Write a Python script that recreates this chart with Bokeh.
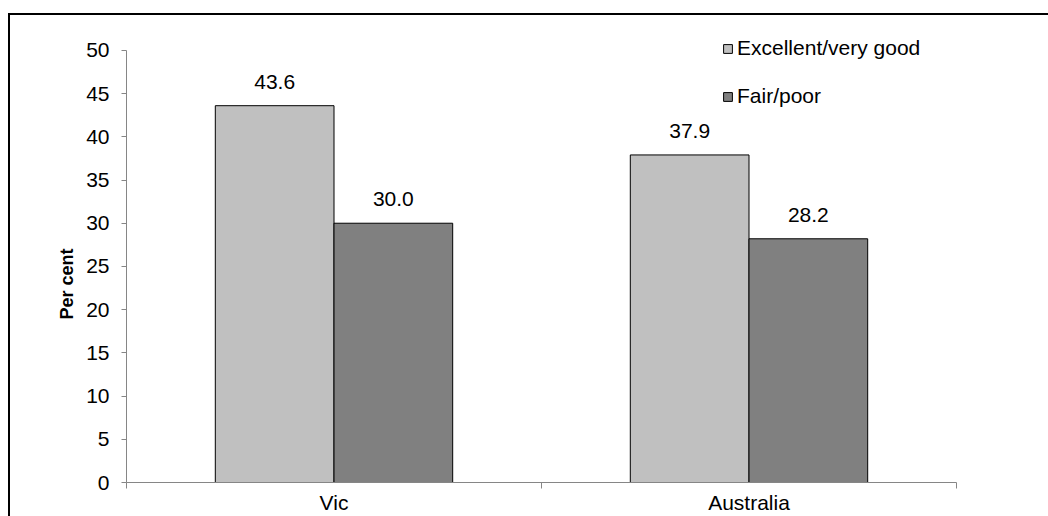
from bokeh.plotting import figure
from bokeh.models import (ColumnDataSource, Range1d, FixedTicker, LinearAxis,
                          Legend, LegendItem)
from bokeh.embed import file_html
from bokeh.resources import INLINE
from bokeh.core.properties import value

# ---- data ----
categories = ["Vic", "Australia"]
series = ["Excellent/very good", "Fair/poor"]
excellent = [43.6, 37.9]
fair = [30.0, 28.2]
y_ticks = [0, 5, 10, 15, 20, 25, 30, 35, 40, 45, 50]
y_title = "Per cent"

FONT = "Liberation Sans"
AX = "#868686"
colors = ["#C0C0C0", "#808080"]
bar_w = 0.286

centers = [i + 0.5 for i in range(len(categories))]

p = figure(width=1048, height=516, output_backend="svg", toolbar_location=None,
           x_range=Range1d(0, len(categories)), y_range=Range1d(0, 52.3),
           min_border_left=126, min_border_right=92, min_border_top=30,
           min_border_bottom=34, x_axis_type=None,
           styles={"background": "linear-gradient(#000,#000) 8px 13px / 100% 2px no-repeat, "
                                 "linear-gradient(#000,#000) 8px 13px / 2px 100% no-repeat, #fff"})
p.border_fill_color = None
p.background_fill_color = None
p.outline_line_color = None
p.grid.visible = False

renderers = []
for k, vals in enumerate([excellent, fair]):
    xs = [c + (k - 0.5) * bar_w for c in centers]
    src = ColumnDataSource(dict(x=xs, top=vals, lab=[f"{v:.1f}" for v in vals]))
    r = p.vbar(x="x", top="top", bottom=0, width=bar_w, source=src,
               fill_color=colors[k], line_color="black", line_width=1)
    renderers.append(r)
    p.text(x="x", y="top", text="lab", source=src, text_align="center",
           text_baseline="alphabetic", y_offset=-24,
           text_font=value(FONT), text_font_size="21px", text_color="black")

# y axis (ticks and labels)
ya = p.yaxis[0]
ya.ticker = FixedTicker(ticks=y_ticks)
ya.bounds = (0, 50)
ya.axis_line_color = AX
ya.major_tick_line_color = AX
ya.major_tick_out = 5
ya.major_tick_in = 0
ya.minor_tick_line_color = None
ya.major_label_text_font = FONT
ya.major_label_text_font_size = "21px"
ya.major_label_text_color = "black"
ya.major_label_standoff = 12

# second left axis carrying only the title (padded so it sits lower, as in the original)
ta = LinearAxis(ticker=FixedTicker(ticks=[]))
ta.axis_line_color = None
ta.major_tick_line_color = None
ta.minor_tick_line_color = None
ta.major_label_text_font_size = "0px"
ta.axis_label = y_title + "\u00a0" * 11
ta.axis_label_text_font = FONT
ta.axis_label_text_font_size = "18px"
ta.axis_label_text_font_style = "bold"
ta.axis_label_text_color = "black"
ta.axis_label_standoff = 7
p.add_layout(ta, "left")

# x axis: labels at category centres, ticks at category boundaries
xa = LinearAxis(ticker=FixedTicker(ticks=centers,
                                   minor_ticks=list(range(len(categories) + 1))))
xa.major_label_overrides = {c: lab for c, lab in zip(centers, categories)}
xa.axis_line_color = AX
xa.major_tick_line_color = None
xa.major_tick_out = 0
xa.major_tick_in = 0
xa.minor_tick_line_color = AX
xa.minor_tick_out = 6
xa.minor_tick_in = 0
xa.major_label_text_font = FONT
xa.major_label_text_font_size = "21px"
xa.major_label_text_color = "black"
xa.major_label_standoff = 2
p.add_layout(xa, "below")

legend = Legend(items=[LegendItem(label=s, renderers=[r]) for s, r in zip(series, renderers)],
                location=(596, 374), orientation="vertical",
                glyph_width=11, glyph_height=11, label_height=24, spacing=24,
                padding=0, margin=0, label_standoff=4,
                label_text_font=FONT, label_text_font_size="21px",
                label_text_color="black",
                border_line_color=None, background_fill_alpha=0)
p.add_layout(legend, "center")

open("out.html", "w").write(file_html(p, INLINE))
